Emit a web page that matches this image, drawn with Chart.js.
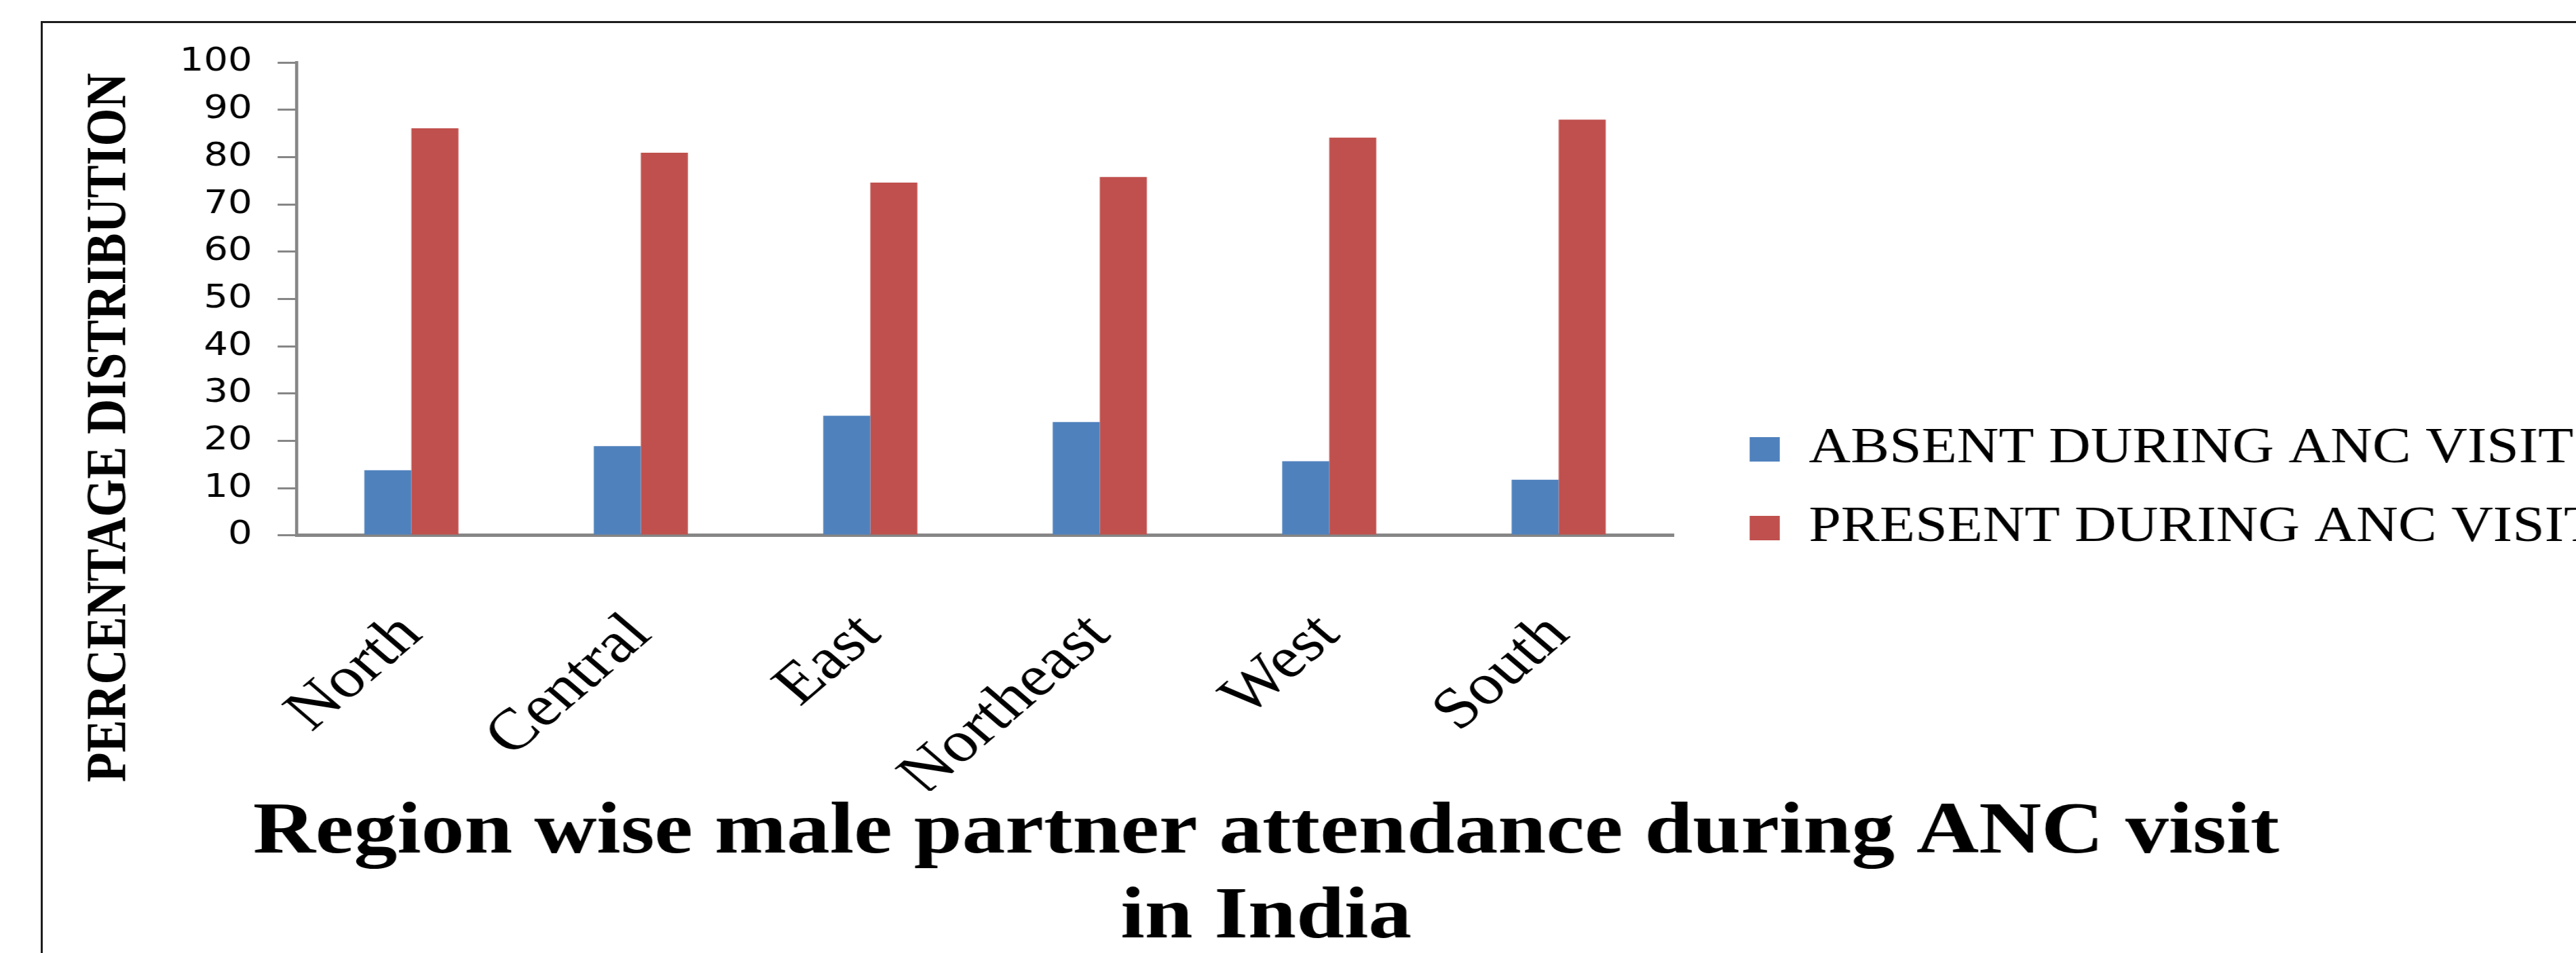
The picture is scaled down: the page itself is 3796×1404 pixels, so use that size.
<!DOCTYPE html>
<html>
<head>
<meta charset="utf-8">
<title>Region wise male partner attendance during ANC visit in India</title>
<script src="https://cdn.jsdelivr.net/npm/chart.js@4.4.1/dist/chart.umd.min.js"></script>
<style>
  html, body { margin: 0; padding: 0; overflow: hidden; background: #fff; }
  #page { position: relative; width: 3796px; height: 1404px; overflow: hidden; background: #fff; }
  /* the source picture is a chart that was stretched sideways, so the canvas is too */
  #chart { position: absolute; left: 0; top: 0; transform: translateX(-80px) scaleX(1.17); transform-origin: 0 0; }
  #frame { position: absolute; left: 60px; top: 31px; width: 4000px; height: 2000px;
           border-left: 3px solid #1c1c1c; border-top: 3px solid #1c1c1c; }
</style>
</head>
<body>
<div id="page">
  <div id="frame"></div>
  <canvas id="chart" width="3326" height="1404"></canvas>
</div>
<script>
const regions = ['North', 'Central', 'East', 'Northeast', 'West', 'South'];
const absent = [13.8, 18.9, 25.3, 24.0, 15.7, 11.8];
const present = [86.1, 80.9, 74.6, 75.8, 84.1, 87.9];
const seriesNames = ['ABSENT DURING ANC VISIT', 'PRESENT DURING ANC VISIT'];
const seriesColors = ['#4F81BD', '#C0504D'];
const yMin = 0, yMax = 100, yStep = 10;
const chartTitle = ['Region wise male partner attendance during ANC visit', 'in India'];
const yTitle = 'PERCENTAGE DISTRIBUTION';

const serif = "'Liberation Serif', 'Times New Roman', serif";
const sans = "'DejaVu Sans', Verdana, sans-serif";
const axisGrey = '#868686';

// y axis title sits low, next to the labels, so it is drawn by hand
const axisTitle = {
  id: 'axisTitle',
  afterDraw(chart, args, opts) {
    const ctx = chart.ctx;
    ctx.save();
    ctx.translate(chart.scales.y.left + opts.x, chart.chartArea.bottom + opts.dy);
    ctx.rotate(-Math.PI / 2);
    ctx.font = opts.font;
    ctx.fillStyle = opts.color;
    ctx.textAlign = 'center';
    ctx.textBaseline = 'middle';
    ctx.fillText(opts.text, 0, 0);
    ctx.restore();
  }
};

new Chart(document.getElementById('chart'), {
  type: 'bar',
  data: {
    labels: regions,
    datasets: [
      { label: seriesNames[0], data: absent, backgroundColor: seriesColors[0], borderWidth: 0 },
      { label: seriesNames[1], data: present, backgroundColor: seriesColors[1], borderWidth: 0 }
    ]
  },
  options: {
    responsive: false,
    animation: false,
    events: [],
    devicePixelRatio: 1,
    categoryPercentage: 0.41,
    barPercentage: 1.0,
    layout: { padding: { top: 92, bottom: 56, left: 0, right: 0 } },
    scales: {
      x: {
        grid: { display: false, drawTicks: false },
        border: { display: true, color: axisGrey, width: 5 },
        ticks: {
          color: '#000',
          font: { family: serif, size: 86 },
          minRotation: 45,
          maxRotation: 45,
          autoSkip: false,
          padding: 96
        },
        afterFit(scale) { scale.height = 376; }
      },
      y: {
        min: yMin,
        max: yMax,
        grid: { drawOnChartArea: false, drawTicks: true, tickLength: 24, color: axisGrey, lineWidth: 3 },
        border: { display: true, color: axisGrey, width: 4 },
        ticks: {
          stepSize: yStep,
          color: '#000',
          font: { family: sans, size: 48 },
          padding: 32
        },
        afterFit(scale) { scale.width = 442; }
      },
      // empty strip between plot and legend
      gap: {
        type: 'linear',
        position: 'right',
        display: true,
        grid: { display: false, drawTicks: false },
        border: { display: false },
        ticks: { display: false },
        afterFit(scale) { scale.width = 53; }
      }
    },
    plugins: {
      legend: {
        position: 'right',
        maxWidth: 1097,
        labels: {
          boxWidth: 38,
          boxHeight: 36,
          padding: 43,
          color: '#000',
          font: { family: serif, size: 73 }
        }
      },
      title: {
        display: true,
        position: 'bottom',
        text: chartTitle,
        color: '#000',
        font: { family: serif, size: 109, weight: 'bold', lineHeight: 1.147 },
        // negative bottom padding lets the second line hang below the legend box
        padding: { top: 0, bottom: -67 }
      },
      tooltip: { enabled: false },
      axisTitle: {
        text: yTitle,
        font: 'bold 72px ' + serif,
        color: '#000',
        x: 207,
        dy: -159
      }
    }
  },
  plugins: [axisTitle]
});
</script>
</body>
</html>
